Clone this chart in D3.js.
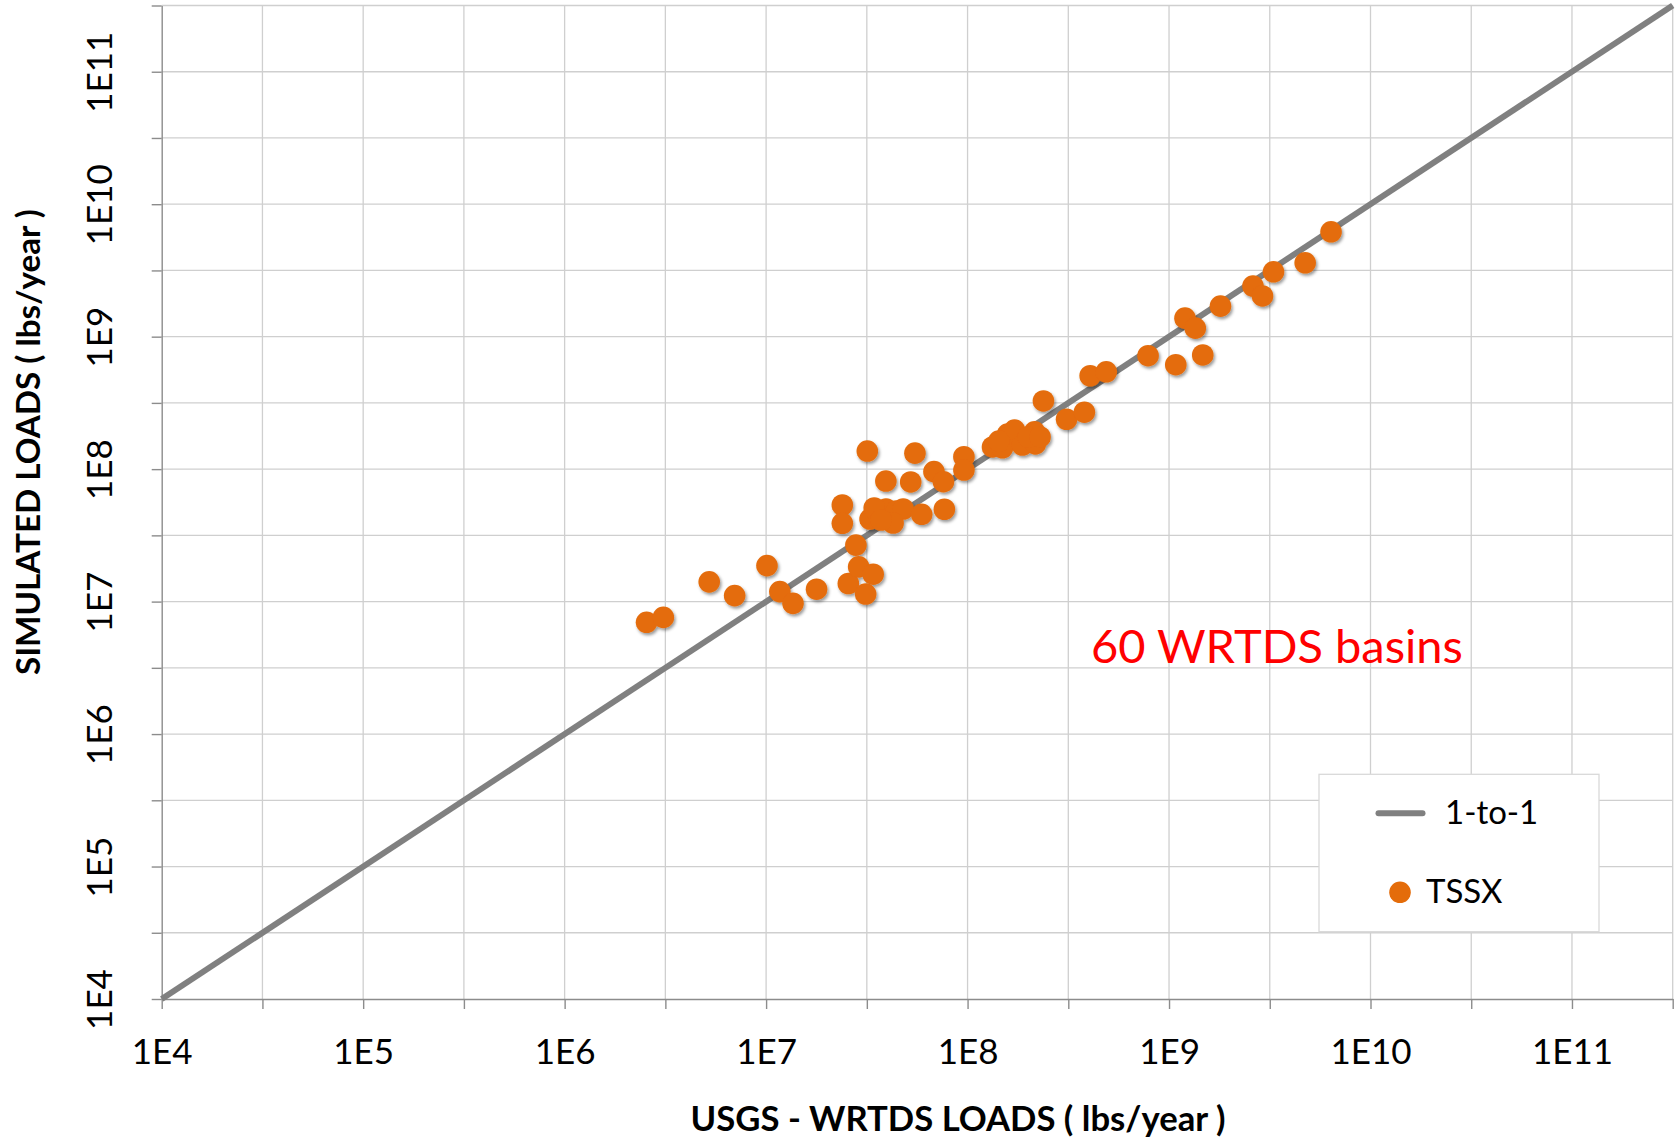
<!DOCTYPE html>
<html>
<head>
<meta charset="utf-8">
<script src="https://cdn.jsdelivr.net/npm/d3@7"></script>
<style>
  html, body { margin: 0; padding: 0; background: #ffffff; }
  svg { display: block; font-family: Lato, "Open Sans", sans-serif; }
</style>
</head>
<body>
<svg id="chart" width="1678" height="1141"></svg>
<script>
// ---- data (loads in lbs/year) ----
const wrtdsLoads = [
  2.55e6, 3.09e6, 5.22e6, 6.98e6, 1.01e7, 1.17e7, 1.36e7, 1.78e7, 2.56e7, 2.88e7,
  3.40e7, 3.12e7, 2.79e7, 2.39e7, 2.39e7, 3.18e7, 5.48e7, 3.93e7, 5.22e7, 3.28e7,
  3.59e7, 3.94e7, 4.07e7, 4.42e7, 4.79e7, 5.92e7, 7.67e7, 6.81e7, 7.59e7, 9.59e7,
  9.59e7, 1.33e8, 1.49e8, 1.58e8, 1.71e8, 1.87e8, 2.15e8, 2.17e8, 2.38e8, 3.10e8,
  3.80e8, 4.06e8, 4.88e8, 7.87e8, 1.08e9, 1.47e9, 1.80e9, 1.20e9, 1.35e9, 2.61e9,
  2.91e9, 3.30e9, 4.74e9, 6.37e9, 4.27e7, 3.44e7, 1.43e8, 2.00e8, 2.29e8, 3.72e7
];
const simulatedLoads = [
  6.98e6, 7.60e6, 1.41e7, 1.11e7, 1.87e7, 1.19e7, 9.70e6, 1.24e7, 1.37e7, 1.83e7,
  1.61e7, 1.14e7, 2.67e7, 5.36e7, 3.90e7, 1.37e8, 1.32e8, 8.13e7, 8.00e7, 4.20e7,
  4.67e7, 5.00e7, 4.13e7, 4.83e7, 5.00e7, 4.56e7, 4.98e7, 9.57e7, 8.04e7, 1.24e8,
  9.84e7, 1.47e8, 1.45e8, 1.84e8, 1.97e8, 1.52e8, 1.91e8, 1.55e8, 3.27e8, 2.38e8,
  2.69e8, 5.07e8, 5.43e8, 7.18e8, 6.14e8, 7.28e8, 1.70e9, 1.38e9, 1.16e9, 2.41e9,
  2.03e9, 3.09e9, 3.61e9, 6.19e9, 3.92e7, 5.09e7, 1.63e8, 1.75e8, 1.75e8, 4.13e7
];
const axisMin = 1e4;
const axisMax = Math.pow(10, 11.5);
const gridExponents = [4, 4.5, 5, 5.5, 6, 6.5, 7, 7.5, 8, 8.5, 9, 9.5, 10, 10.5, 11, 11.5];
const tickValues = [1e4, 1e5, 1e6, 1e7, 1e8, 1e9, 1e10, 1e11];
const tickLabels = ["1E4", "1E5", "1E6", "1E7", "1E8", "1E9", "1E10", "1E11"];
const seriesName = "TSSX";
const lineName = "1-to-1";
const xTitle = "USGS - WRTDS LOADS ( lbs/year )";
const yTitle = "SIMULATED LOADS ( lbs/year )";
const note = "60 WRTDS basins";

// ---- layout ----
const plot = { left: 161.7, right: 1672.7, top: 5.5, bottom: 999 };
const svg = d3.select("#chart");

const x = d3.scaleLog().domain([axisMin, axisMax]).range([plot.left, plot.right]);
const y = d3.scaleLog().domain([axisMin, axisMax]).range([plot.bottom, plot.top]);

const gridValues = gridExponents.map(e => Math.pow(10, e));
const labelOf = v => {
  const i = tickValues.findIndex(t => Math.abs(Math.log10(t) - Math.log10(v)) < 1e-6);
  return i >= 0 ? tickLabels[i] : "";
};

const defs = svg.append("defs");
const f = defs.append("filter").attr("id", "shadow")
  .attr("x", "-50%").attr("y", "-50%").attr("width", "200%").attr("height", "200%");
f.append("feDropShadow").attr("dx", 1.5).attr("dy", 2.2).attr("stdDeviation", 1.6)
  .attr("flood-color", "#000").attr("flood-opacity", 0.4);

// gridlines
const grid = svg.append("g").attr("class", "grid");
grid.selectAll("line.v").data(gridValues.slice(1)).join("line")
  .attr("class", "v")
  .attr("x1", d => x(d)).attr("x2", d => x(d))
  .attr("y1", plot.top).attr("y2", plot.bottom)
  .attr("stroke", "#cfcfcf").attr("stroke-width", 1.3);
grid.selectAll("line.h").data(gridValues.slice(1)).join("line")
  .attr("class", "h")
  .attr("x1", plot.left).attr("x2", plot.right)
  .attr("y1", d => y(d)).attr("y2", d => y(d))
  .attr("stroke", "#cfcfcf").attr("stroke-width", 1.3);

// axes
const xAxis = d3.axisBottom(x).tickValues(gridValues).tickSize(10).tickSizeOuter(0)
  .tickFormat(labelOf);
const gx = svg.append("g").attr("transform", `translate(0,${plot.bottom})`).call(xAxis);
gx.select(".domain").attr("stroke", "#8c8c8c").attr("stroke-width", 1.4);
gx.selectAll(".tick line").attr("stroke", "#8c8c8c").attr("stroke-width", 1.4);
gx.selectAll(".tick text")
  .attr("dy", null).attr("y", 65)
  .attr("font-size", 35).attr("fill", "#000").attr("font-family", "Lato, sans-serif");

const yAxis = d3.axisLeft(y).tickValues(gridValues).tickSize(10).tickSizeOuter(0)
  .tickFormat(labelOf);
const gy = svg.append("g").attr("transform", `translate(${plot.left},0)`).call(yAxis);
gy.select(".domain").attr("stroke", "#8c8c8c").attr("stroke-width", 1.4);
gy.selectAll(".tick line").attr("stroke", "#8c8c8c").attr("stroke-width", 1.4);
gy.selectAll(".tick text")
  .attr("x", null).attr("dy", null)
  .attr("text-anchor", "middle")
  .attr("transform", `translate(${112 - plot.left},0) rotate(-90)`)
  .attr("font-size", 35).attr("fill", "#000").attr("font-family", "Lato, sans-serif");

// 1-to-1 line
svg.append("line")
  .attr("x1", x(axisMin)).attr("y1", y(axisMin))
  .attr("x2", x(axisMax)).attr("y2", y(axisMax))
  .attr("stroke", "#808080").attr("stroke-width", 6);

// points
const points = wrtdsLoads.map((v, i) => ({ x: v, y: simulatedLoads[i] }));
svg.append("g").attr("filter", "url(#shadow)")
  .selectAll("circle").data(points).join("circle")
  .attr("cx", d => x(d.x)).attr("cy", d => y(d.y)).attr("r", 10.8)
  .attr("fill", "#e46c0a");

// fit helper
function fit(sel, target) {
  const w = sel.node().getComputedTextLength();
  const fs = parseFloat(sel.attr("font-size"));
  sel.attr("font-size", fs * target / w);
}

// note
const nt = svg.append("text")
  .attr("x", 1091).attr("y", 662.5)
  .attr("font-size", 44).attr("fill", "#ff0000").text(note);
fit(nt, 372);

// axis titles
const xt = svg.append("text")
  .attr("x", 958).attr("y", 1131)
  .attr("text-anchor", "middle").attr("font-weight", "bold")
  .attr("font-size", 28).attr("fill", "#000").text(xTitle);
fit(xt, 535);

const yt = svg.append("text")
  .attr("transform", `translate(40,442) rotate(-90)`)
  .attr("text-anchor", "middle").attr("font-weight", "bold")
  .attr("font-size", 28).attr("fill", "#000").text(yTitle);
fit(yt, 466);

// legend
const lg = svg.append("g");
lg.append("rect").attr("x", 1319).attr("y", 774.3).attr("width", 280).attr("height", 157.4)
  .attr("fill", "#fff").attr("stroke", "#d9d9d9").attr("stroke-width", 1.3);
lg.append("line").attr("x1", 1378.5).attr("x2", 1422.5).attr("y1", 813.3).attr("y2", 813.3)
  .attr("stroke", "#808080").attr("stroke-width", 6).attr("stroke-linecap", "round");
lg.append("text").attr("x", 1445).attr("y", 824.3).attr("font-size", 33).attr("fill", "#000").text(lineName);
lg.append("circle").attr("cx", 1400).attr("cy", 892.3).attr("r", 10.8).attr("fill", "#e46c0a");
lg.append("text").attr("x", 1426).attr("y", 903.3).attr("font-size", 33).attr("fill", "#000").text(seriesName);
</script>
</body>
</html>
